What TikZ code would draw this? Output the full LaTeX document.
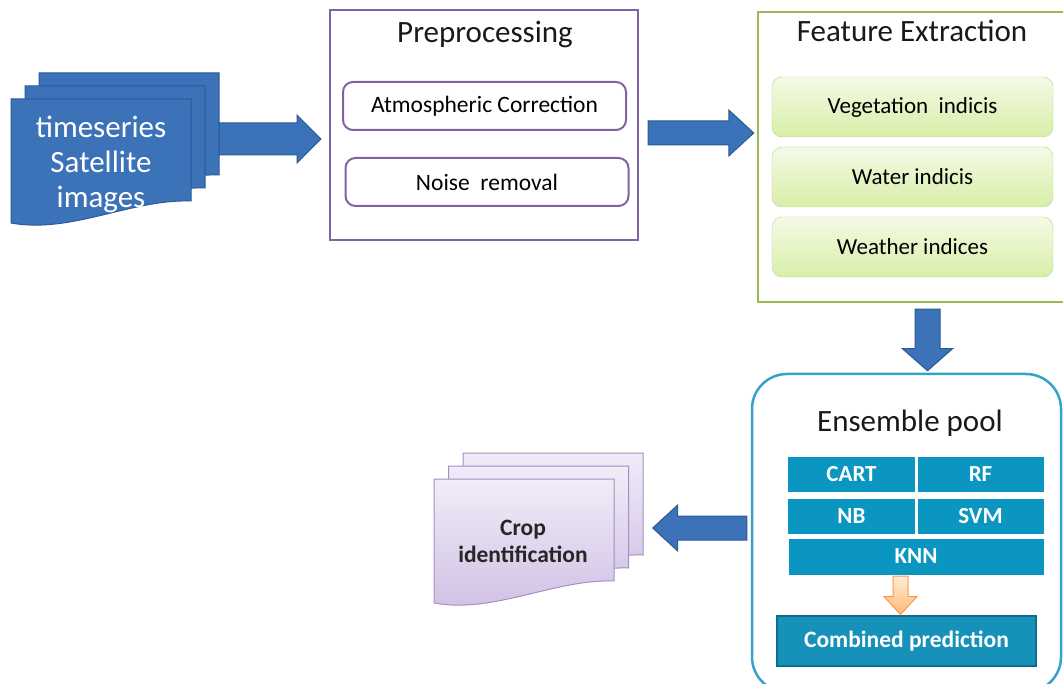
\documentclass[tikz,border=0pt]{standalone}
\usepackage{fontspec}
\setmainfont{Carlito}
\usetikzlibrary{calc,positioning}
\definecolor{docblue}{HTML}{3B72B8}
\definecolor{docline}{HTML}{2B5A94}
\definecolor{prepurple}{HTML}{8064A2}
\definecolor{fegreen}{HTML}{9BBB59}
\definecolor{feline}{HTML}{B5D58A}
\definecolor{fetop}{HTML}{F4FAE6}
\definecolor{febottom}{HTML}{D8EEA8}
\definecolor{ensblue}{HTML}{35A2CC}
\definecolor{cellblue}{HTML}{0A96C0}
\definecolor{combfill}{HTML}{1591BA}
\definecolor{combline}{HTML}{0E6C8E}
\definecolor{cropline}{HTML}{A48FC4}
\definecolor{croptop}{HTML}{F1ECF8}
\definecolor{cropbottom}{HTML}{CFBFE4}

% page of a document stack: x, y (top left), style
\newcommand\docpage[3]{%
  \draw[#3] (#1,#2) -- (#1+180,#2) -- (#1+180,#2+102)
    .. controls (#1+120,#2+100) and (#1+60,#2+135) .. (#1,#2+124) -- cycle;}
% block arrow: [style] start, tip, shaft half width, head half width, head length
\newcommand\fatarrow[6][fatarr]{%
  \coordinate (fa-h) at ($(#3)!#6!(#2)$);
  \draw[#1] ($(#2)!#4!90:(#3)$) -- ($(fa-h)!#4!-90:(#2)$) -- ($(fa-h)!#5!-90:(#2)$)
    -- (#3) -- ($(fa-h)!#5!90:(#2)$) -- ($(fa-h)!#4!90:(#2)$) -- ($(#2)!#4!-90:(#3)$) -- cycle;}

\begin{document}
\begin{tikzpicture}[x=1pt,y=-1pt,
  title/.style={font=\fontsize{31}{35}\selectfont,text=black!90},
  prebox/.style={draw=prepurple,line width=2pt,rounded corners=10pt,minimum width=283pt,
    minimum height=48pt,font=\fontsize{23.5}{27}\selectfont},
  feat/.style={draw=feline,rounded corners=10pt,top color=fetop,bottom color=febottom,
    minimum width=281pt,minimum height=60pt,font=\fontsize{23}{27}\selectfont},
  cell/.style={fill=cellblue,text=white,font=\bfseries\fontsize{23}{27}\selectfont,
    minimum height=35pt,inner sep=0pt},
  satpage/.style={fill=docblue,draw=docline,line width=1pt},
  croppage/.style={draw=cropline,line width=1pt,top color=croptop,bottom color=cropbottom},
  fatarr/.style={fill=docblue,draw=docline,line width=1pt,line join=miter},
  smallarr/.style={draw=orange!80!red!70,line width=1pt,top color=orange!15,bottom color=orange!55}]
  \clip (0,0) rectangle (1063,684);
  % satellite images
  \foreach \dx/\dy in {28/-26,14/-13,0/0} \docpage{11+\dx}{99+\dy}{satpage}
  \node[text=white,align=center,minimum width=180pt,font=\fontsize{31}{35}\selectfont] (sat)
    at (101,164) {timeseries\\Satellite\\images};
  % preprocessing
  \node[draw=prepurple,line width=2pt,minimum width=308pt,minimum height=230pt] (pre) at (484,125) {};
  \node[title] (pret) at (485,35) {Preprocessing};
  \node[prebox] (atm) at (484.5,106) {Atmospheric Correction};
  \node[prebox] (noise) at (487,182) {Noise\ \ removal};
  % feature extraction
  \node[draw=fegreen,line width=2.5pt,minimum width=316pt,minimum height=290pt] (fe) at (916,157) {};
  \node[title] (fet) at (912,31) {Feature Extraction};
  \node[feat] (veg) at (912.5,107) {Vegetation\ \ indicis};
  \node[feat] (wat) at (912.5,177) {Water indicis};
  \node[feat] (wea) at (912.5,247) {Weather indices};
  % ensemble pool
  \node[draw=ensblue,line width=2.5pt,rounded corners=35pt,minimum width=309pt,minimum height=318pt] (ens)
    at (906.5,533) {};
  \node[title] (enst) at (910,423) {Ensemble pool};
  \node[cell,minimum width=127pt] (cart) at (851.5,474.5) {CART};
  \node[cell,minimum width=126pt] (rf) at (980.5,474.5) {RF};
  \node[cell,minimum width=127pt] (nb) at (851.5,516) {NB};
  \node[cell,minimum width=126pt] (svm) at (980.5,516) {SVM};
  \node[cell,minimum width=255pt,minimum height=36pt] (knn) at (916,556.5) {KNN};
  \node[fill=combfill,draw=combline,line width=2pt,text=white,minimum width=259pt,minimum height=50pt,
    font=\bfseries\fontsize{23.5}{27}\selectfont] (comb) at (906.5,641) {Combined prediction};
  % crop identification
  \foreach \dx/\dy in {29/-26,14.5/-13,0/0} \docpage{434+\dx}{479+\dy}{croppage}
  \node[align=center,minimum width=179pt,font=\bfseries\fontsize{23.5}{27}\selectfont,text=black!85] (crop)
    at (523,541) {Crop\\identification};
  % arrows
  \coordinate (a1s) at ($(sat.east)+(28,-25)$);
  \coordinate (a1t) at ($(pre.west)+(-8,14)$);
  \coordinate (a2s) at ($(pre.east)+(9,8)$);
  \coordinate (a2t) at ($(fe.west)+(-3,-24)$);
  \coordinate (a3s) at ($(fe.south)+(11.5,6)$);
  \coordinate (a3t) at ($(ens.north)+(21,-2)$);
  \coordinate (a4s) at ($(ens.west)+(-4,-5)$);
  \coordinate (a4t) at ($(crop.east)+(40,-13)$);
  \coordinate (a5s) at ($(knn.south)+(-15.5,1.5)$);
  \coordinate (a5t) at ($(comb.north)+(-6,-0.5)$);
  \fatarrow{a1s}{a1t}{16pt}{24pt}{24pt}
  \fatarrow{a2s}{a2t}{12pt}{23pt}{25pt}
  \fatarrow{a3s}{a3t}{12.5pt}{25pt}{22pt}
  \fatarrow{a4s}{a4t}{12pt}{23pt}{25pt}
  \fatarrow[smallarr]{a5s}{a5t}{7.5pt}{16.5pt}{18pt}
\end{tikzpicture}
\end{document}
